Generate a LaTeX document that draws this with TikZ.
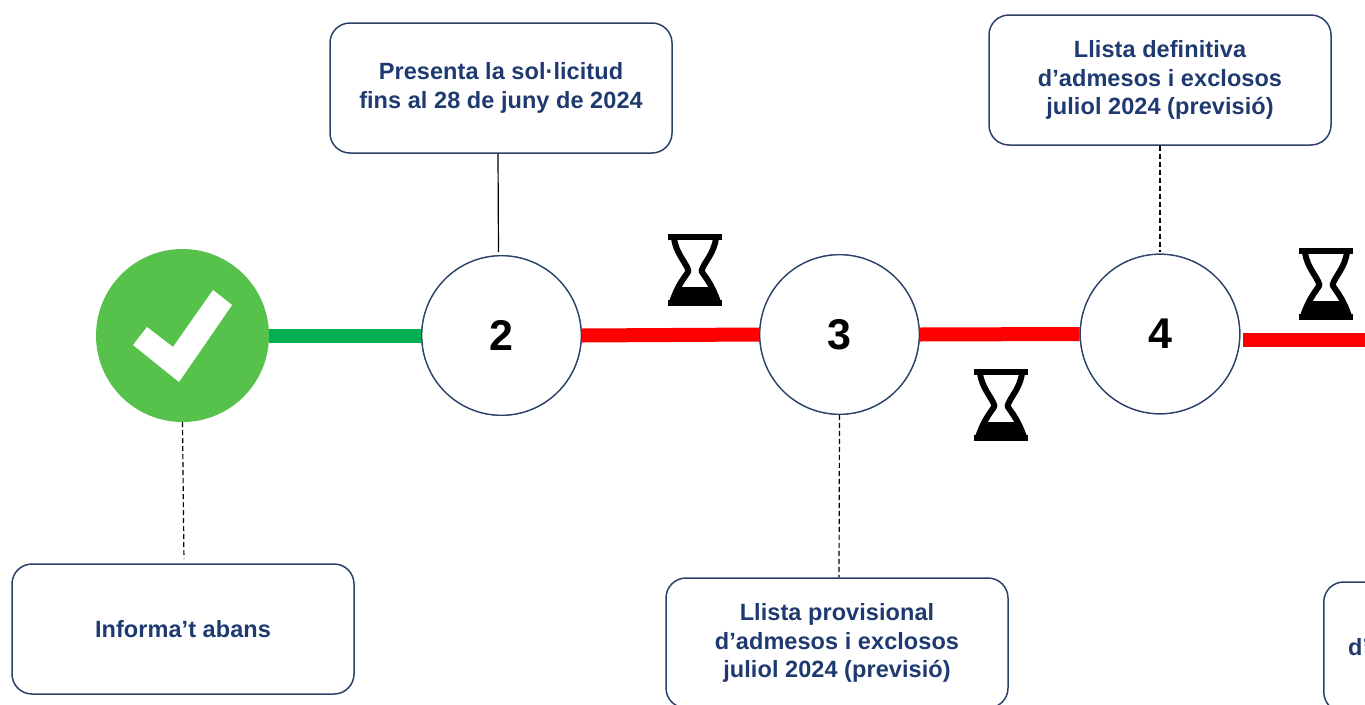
\documentclass[tikz,border=0pt]{standalone}
\usepackage{fontspec}
\setmainfont{Liberation Sans}
\newfontfamily\lblfont[LetterSpace=0.3]{Liberation Sans Bold}
\definecolor{navy}{HTML}{1F3A70}
\definecolor{edge}{HTML}{2B4168}
\definecolor{okgreen}{HTML}{57C24B}
\definecolor{linkgreen}{HTML}{00B050}
\tikzset{
  x=1pt,y=-1pt,
  infobox/.style={draw=edge,line width=1.5pt,rounded corners=20pt,fill=white,minimum width=342pt,minimum height=130pt,
    align=center,text=navy,font=\fontsize{23.5}{28.5}\selectfont\lblfont,inner sep=0pt},
  boxtext/.style={text=navy,font=\fontsize{23.5}{28.5}\selectfont\lblfont,inner sep=0pt},
  stepcircle/.style={circle,draw=edge,line width=1.3pt,fill=white,minimum size=159.5pt,inner sep=0pt,
    font=\fontsize{43}{43}\selectfont\bfseries},
  donecircle/.style={circle,fill=okgreen,minimum size=173pt,inner sep=0pt},
  greenlink/.style={linkgreen,line width=14pt},
  redlink/.style={red,line width=14pt},
  solidlink/.style={black,line width=1.2pt},
  dashlink/.style={black,line width=1.2pt,dash pattern=on 5pt off 3pt},
  hourglass/.pic={
    \fill[black] (0,0) rectangle (54,6);
    \fill[black] (0,66) rectangle (54,72);
    \draw[black,line width=6pt,line join=round] (6,4) .. controls (8,20) and (18,28) .. (20.5,37) .. controls (18,42) and (11,48) .. (4,68);
    \draw[black,line width=6pt,line join=round] (48,4) .. controls (46,20) and (36,28) .. (33.5,37) .. controls (36,42) and (43,48) .. (50,68);
    \fill[black] (9,53) -- (45,53) -- (52,68) -- (2,68) -- cycle;
  }
}
\begin{document}
\begin{tikzpicture}
\useasboundingbox (0,0) rectangle (1365,704);
\clip (0,0) rectangle (1365,704);
\fill[white] (0,0) rectangle (1365,704);
% nodes
\node[donecircle] (c1) at (182.5,335.5) {};
\node[stepcircle] (c2) at (501.5,335.5) {2};
\node[stepcircle] (c3) at (839.5,334.5) {3};
\node[stepcircle] (c4) at (1160,334) {4};
\coordinate (edgeR) at (1380,339.5);
\node[infobox] (b1) at (183,629) {Informa’t abans};
\node[infobox] (b2) at (501,88) {Presenta la sol·licitud\\fins al 28 de juny de 2024};
\node[infobox] (b3) at (837,643) {Llista provisional\\d’admesos i exclosos\\juliol 2024 (previsió)};
\node[infobox] (b4) at (1160,80) {Llista definitiva\\d’admesos i exclosos\\juliol 2024 (previsió)};
\node[infobox,anchor=west] (b5) at (1323,647) {};
\node[boxtext,anchor=west] (t5) at (1348,647) {d’};
% connectors
\draw[greenlink] (c1.east) -- (c2.west);
\draw[redlink] (c2.east) -- (c3.west);
\draw[redlink] (c3.east) -- (c4.west);
\draw[redlink,shorten <=3pt] (c4.east |- edgeR) -- (edgeR);
\draw[solidlink,shorten >=3pt] ([xshift=-3pt]b2.south) -- ([xshift=-3pt]c2.north);
\draw[dashlink,shorten >=2pt] (b4.south) -- (c4.north);
\draw[dashlink] (c3.south) -- ([xshift=2pt]b3.north);
\draw[dashlink,shorten >=5pt] (c1.south) -- ([xshift=1pt]b1.north);
% redraw circles above link ends
\node[stepcircle] at (c2) {2};
\node[stepcircle] at (c3) {3};
\node[stepcircle] at (c4) {4};
% check mark
\fill[white] (133,345) -- (147,327) -- (173,347) -- (213,290) -- (232,305) -- (179,382) -- cycle;
% hourglasses
\pic at (668,234) {hourglass};
\pic at (974,369) {hourglass};
\pic at (1299,248) {hourglass};
\end{tikzpicture}
\end{document}
